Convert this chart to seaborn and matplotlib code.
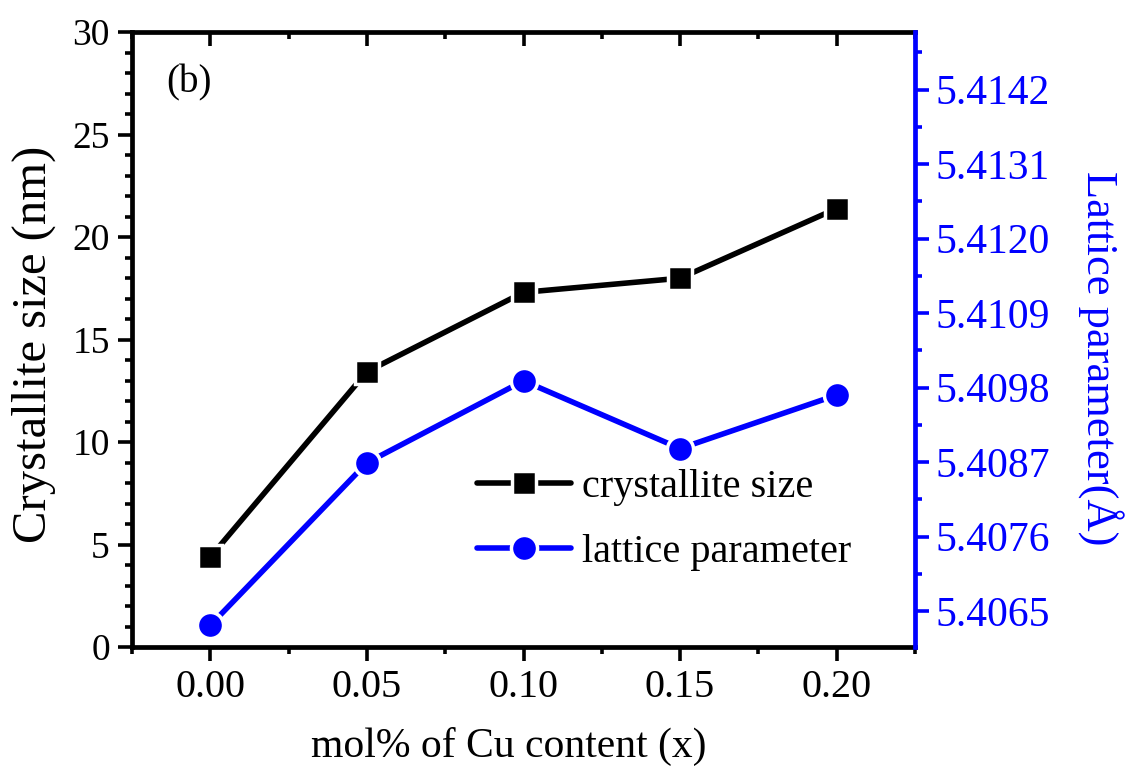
import numpy as np
import matplotlib
matplotlib.use("Agg")
import matplotlib.pyplot as plt
from matplotlib.ticker import MultipleLocator, FixedLocator, FixedFormatter
import seaborn as sns

# Cu content (mol fraction) and the two measured quantities
cu_content = [0.00, 0.05, 0.10, 0.15, 0.20]
crystallite_size = [4.39, 13.43, 17.30, 17.99, 21.39]
lattice_param = [5.40629, 5.40869, 5.40990, 5.40890, 5.40969]

# tick values
x_ticks = [0.00, 0.05, 0.10, 0.15, 0.20]
size_ticks = [0, 5, 10, 15, 20, 25, 30]
lattice_ticks = [5.4065, 5.4076, 5.4087, 5.4098, 5.4109, 5.4120, 5.4131, 5.4142]
lattice_labels = ["5.4065", "5.4076", "5.4087", "5.4098", "5.4109", "5.4120", "5.4131", "5.4142"]

sns.set_theme(style="ticks")
plt.rcParams["font.family"] = ["Liberation Serif", "DejaVu Serif"]
plt.rcParams["axes.unicode_minus"] = False
plt.rcParams["text.color"] = "black"
plt.rcParams["axes.labelcolor"] = "black"
plt.rcParams["xtick.color"] = "black"
plt.rcParams["ytick.color"] = "black"

BLUE = "#0000FF"
SPINE_W = 3.4
TICK_W = 2.6
LINE_W = 4.0

fig = plt.figure(figsize=(11.26, 7.74), dpi=100)
ax = fig.add_axes([132 / 1126, 1 - 647 / 774, 783 / 1126, 615 / 774])
ax2 = ax.twinx()

sns.lineplot(x=cu_content, y=crystallite_size, ax=ax, color="black",
             marker="s", markersize=17.0, markeredgecolor="white",
             markeredgewidth=2.5, linewidth=LINE_W, label="crystallite size",
             legend=False)
sns.lineplot(x=cu_content, y=lattice_param, ax=ax2, color=BLUE,
             marker="o", markersize=18.8, markeredgecolor="white",
             markeredgewidth=2.5, linewidth=LINE_W, label="lattice parameter",
             legend=False)
for ln in (ax.lines[0], ax2.lines[0]):
    ln.set_linewidth(LINE_W)
    ln.set_markeredgewidth(2.5)
    ln.set_markeredgecolor("white")

# x axis
ax.set_xlim(-0.025, 0.225)
ax.set_xticks(x_ticks)
ax.set_xticklabels([f"{v:.2f}" for v in x_ticks])
ax.xaxis.set_minor_locator(MultipleLocator(0.025))

# left axis
ax.set_ylim(0, 30)
ax.set_yticks(size_ticks)
ax.yaxis.set_minor_locator(MultipleLocator(1))

# right axis
ax2.set_ylim(5.40597, 5.41505)
ax2.yaxis.set_major_locator(FixedLocator(lattice_ticks))
ax2.yaxis.set_major_formatter(FixedFormatter(lattice_labels))
ax2.yaxis.set_minor_locator(FixedLocator([t + 0.00055 for t in lattice_ticks]))

# spines
for side in ["left", "bottom", "top"]:
    ax.spines[side].set_linewidth(SPINE_W)
    ax.spines[side].set_color("black")
ax.spines["right"].set_visible(False)
for side in ["left", "bottom", "top"]:
    ax2.spines[side].set_visible(False)
ax2.spines["right"].set_linewidth(SPINE_W)
ax2.spines["right"].set_color(BLUE)

# tick styling
ax.tick_params(axis="x", which="major", direction="out", length=10, width=TICK_W,
               labelsize=29, pad=6, colors="black", top=False)
ax.tick_params(axis="x", which="minor", direction="out", length=5, width=TICK_W,
               top=False)
ax.tick_params(axis="y", which="major", direction="out", length=10, width=TICK_W,
               labelsize=27, pad=6, colors="black", right=False)
ax.tick_params(axis="y", which="minor", direction="out", length=5, width=TICK_W,
               right=False)

# inward ticks along the top edge (no labels)
ax2.xaxis.set_visible(True)
ax2.tick_params(axis="x", which="both", bottom=False, top=True,
                labelbottom=False, labeltop=False, direction="in",
                width=TICK_W, color="black")
ax2.tick_params(axis="x", which="major", length=10)
ax2.tick_params(axis="x", which="minor", length=5)

ax2.tick_params(axis="y", which="major", direction="out", length=10, width=TICK_W,
                labelsize=30, pad=5, colors=BLUE, left=False)
ax2.tick_params(axis="y", which="minor", direction="out", length=5, width=TICK_W,
                colors=BLUE, left=False)

# axis labels
ax.set_xlabel("mol% of Cu content (x)", fontsize=30, va="center")
ax.xaxis.set_label_coords((509 - 132) / 783, (647 - 746) / 615)
ax.set_ylabel("Crystallite size (nm)", fontsize=35, va="center")
ax.yaxis.set_label_coords((34 - 132) / 783, (647 - 344) / 615)
ax2.set_ylabel("Lattice parameter(Å)", fontsize=32, color=BLUE,
               rotation=270, va="center")
ax2.yaxis.set_label_coords((1100 - 132) / 783, (647 - 358) / 615)

ax.text(0.0734, 0.917, "(b)", transform=ax.transAxes, fontsize=28,
        ha="center", va="center", color="black")

handles = [ax.lines[0], ax2.lines[0]]
ax2.legend(handles=handles, labels=["crystallite size", "lattice parameter"],
           loc="center left", bbox_to_anchor=(0.4406, 0.2065), frameon=False,
           fontsize=29, handlelength=2.33, handletextpad=0.27,
           labelspacing=0.7, borderpad=0, borderaxespad=0, numpoints=1)

fig.savefig("out.png", dpi=100)
